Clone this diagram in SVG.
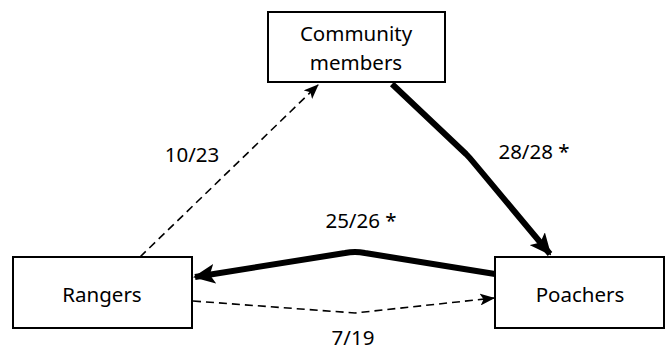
<svg xmlns="http://www.w3.org/2000/svg" width="665" height="351" viewBox="0 0 665 351">
<style>
.box{fill:#fff;stroke:#000;stroke-width:2}
.t{font-family:"Noto Sans","Open Sans",sans-serif;font-size:20.5px;fill:#000;text-anchor:middle}
.thick{fill:none;stroke:#000;stroke-width:6;stroke-linejoin:round}
.dash{fill:none;stroke:#000;stroke-width:1.6;stroke-dasharray:8,5}
</style>
<defs>
<marker id="ah" markerWidth="22" markerHeight="20" refX="20" refY="10" orient="auto" markerUnits="userSpaceOnUse" viewBox="0 0 22 20">
<path d="M0,0 L22,10 L0,20 L5,10 Z" fill="#000"/>
</marker>
<marker id="ahs" markerWidth="15" markerHeight="12" refX="14" refY="6" orient="auto" markerUnits="userSpaceOnUse" viewBox="0 0 15 12">
<path d="M0,0 L15,6 L0,12 L3.5,6 Z" fill="#000"/>
</marker>
</defs>
<g id="connectors">
<path class="dash" d="M140,257 L318,85" marker-end="url(#ahs)"/>
<path class="thick" d="M392,84 L466,154 Q470,158 474,163 L550,254" marker-end="url(#ah)"/>
<path class="thick" d="M495,274 L365,253 Q355,251 345,253 L195,277" marker-end="url(#ah)"/>
<path class="dash" d="M193,301 L355,313 L494,298" marker-end="url(#ahs)"/>
<text class="t" x="192" y="162">10/23</text>
<text class="t" x="534" y="159">28/28 *</text>
<text class="t" x="361" y="228">25/26 *</text>
<text class="t" x="353" y="345">7/19</text>
</g>
<g id="community">
<rect class="box" x="268" y="12" width="177" height="70"/>
<text class="t" x="356" y="41">Community</text>
<text class="t" x="356" y="70">members</text>
</g>
<g id="rangers">
<rect class="box" x="13" y="257" width="179" height="71"/>
<text class="t" x="102" y="302">Rangers</text>
</g>
<g id="poachers">
<rect class="box" x="495" y="257" width="169" height="71"/>
<text class="t" x="580" y="302">Poachers</text>
</g>
</svg>
